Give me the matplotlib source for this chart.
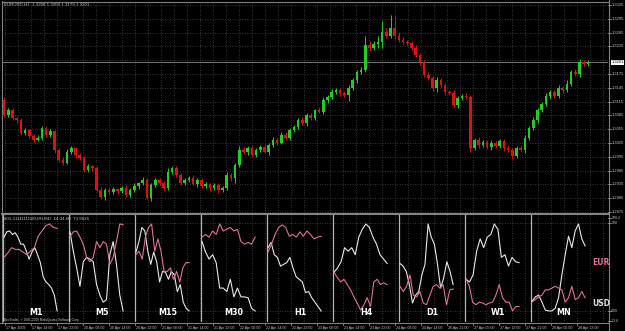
import numpy as np
import matplotlib.pyplot as plt

# EURUSD bars: first open, then closes (each bar opens at the previous close)
first_open = 1.3119
closes = [
    1.3086, 1.3097, 1.3079, 1.3075, 1.3047, 1.3053, 1.3040, 1.3032, 1.3036, 1.3058,
    1.3043, 1.3051, 1.3010, 1.2988, 1.2982, 1.3006, 1.3014, 1.2999, 1.2993, 1.2966,
    1.2975, 1.2971, 1.2923, 1.2908, 1.2923, 1.2919, 1.2925, 1.2921, 1.2927, 1.2912,
    1.2923, 1.2932, 1.2938, 1.2945, 1.2906, 1.2934, 1.2945, 1.2938, 1.2927, 1.2962,
    1.2971, 1.2956, 1.2938, 1.2945, 1.2949, 1.2936, 1.2945, 1.2932, 1.2936, 1.2927,
    1.2934, 1.2923, 1.2927, 1.2956, 1.2949, 1.2977, 1.3010, 1.3006, 1.3014, 1.2999,
    1.3010, 1.3016, 1.3006, 1.3021, 1.3032, 1.3025, 1.3043, 1.3036, 1.3053, 1.3060,
    1.3075, 1.3069, 1.3086, 1.3079, 1.3097, 1.3093, 1.3119, 1.3125, 1.3136, 1.3140,
    1.3134, 1.3129, 1.3145, 1.3162, 1.3179, 1.3184, 1.3238, 1.3232, 1.3240, 1.3245,
    1.3266, 1.3258, 1.3275, 1.3258, 1.3249, 1.3245, 1.3243, 1.3232, 1.3216, 1.3201,
    1.3173, 1.3166, 1.3145, 1.3162, 1.3151, 1.3136, 1.3134, 1.3108, 1.3123, 1.3127,
    1.3125, 1.3014, 1.3032, 1.3021, 1.3027, 1.3016, 1.3025, 1.3019, 1.3029, 1.3014,
    1.3010, 1.2997, 1.3014, 1.3010, 1.3036, 1.3058, 1.3075, 1.3097, 1.3110, 1.3127,
    1.3136, 1.3127, 1.3145, 1.3140, 1.3153, 1.3179, 1.3175, 1.3201, 1.3197, 1.3201,
]
# wick lengths in pips above / below the body
wick_up = [
    6, 4, 5, 3, 4, 5, 3, 4, 6, 5, 4, 5, 3, 4, 6, 5, 4, 3, 5, 4,
    5, 3, 4, 6, 5, 4, 5, 3, 4, 6, 4, 5, 3, 6, 4, 5, 4, 3, 5, 8,
    5, 4, 3, 5, 4, 6, 3, 4, 5, 3, 4, 3, 5, 6, 4, 5, 8, 6, 5, 4,
    5, 4, 6, 3, 5, 4, 5, 6, 4, 5, 4, 6, 5, 4, 3, 6, 5, 4, 6, 5,
    4, 5, 6, 5, 4, 7, 20, 8, 6, 12, 25, 10, 28, 26, 8, 6, 5, 4, 5, 4,
    5, 6, 4, 7, 5, 4, 5, 6, 4, 5, 6, 5, 4, 6, 5, 4, 6, 5, 4, 5,
    6, 4, 5, 6, 7, 5, 6, 4, 5, 6, 5, 4, 6, 5, 8, 5, 6, 7, 4, 5,
]
wick_dn = [
    4, 5, 3, 6, 4, 5, 6, 4, 3, 5, 5, 4, 6, 5, 4, 3, 5, 6, 4, 5,
    4, 6, 5, 4, 6, 5, 4, 6, 5, 4, 5, 4, 6, 5, 3, 6, 5, 4, 6, 4,
    4, 6, 5, 4, 5, 3, 6, 4, 5, 6, 5, 6, 4, 5, 6, 12, 5, 4, 6, 5,
    4, 5, 3, 6, 4, 5, 3, 4, 5, 4, 5, 4, 6, 5, 4, 3, 5, 6, 4, 5,
    6, 5, 12, 5, 6, 4, 5, 6, 4, 8, 14, 5, 4, 6, 5, 4, 6, 5, 4, 6,
    5, 4, 6, 10, 5, 6, 4, 5, 6, 4, 5, 8, 4, 6, 5, 4, 6, 5, 4, 6,
    5, 6, 4, 5, 6, 5, 4, 6, 5, 4, 6, 5, 4, 6, 5, 4, 5, 6, 5, 4,
]
price_ticks = [1.3325 - 0.0030 * k for k in range(16)]
last_price = 1.3201

date_labels = [
    '17 Apr 2009', '17 Apr 14:00', '17 Apr 22:00', '20 Apr 06:00', '20 Apr 14:00',
    '20 Apr 22:00', '21 Apr 06:00', '21 Apr 14:00', '21 Apr 22:00', '22 Apr 06:00',
    '22 Apr 14:00', '22 Apr 22:00', '23 Apr 06:00', '23 Apr 14:00', '23 Apr 22:00',
    '24 Apr 06:00', '24 Apr 14:00', '26 Apr 21:00', '27 Apr 05:00', '27 Apr 13:00',
    '27 Apr 21:00', '28 Apr 05:00', '28 Apr 13:00',
]

# currency strength per timeframe (0..100)
panels = ['M1', 'M5', 'M15', 'M30', 'H1', 'H4', 'D1', 'W1', 'MN']
eur = [
    [61, 66, 72, 70, 70, 67, 64, 68, 72, 85, 91, 97, 99, 95, 94],
    [85, 90, 91, 84, 76, 61, 56, 61, 79, 72, 79, 76, 53, 61, 79, 99, 98],
    [64, 68, 59, 84, 95, 99, 68, 82, 68, 45, 45, 49, 36, 45, 33, 49, 55, 55],
    [84, 87, 84, 91, 87, 99, 91, 93, 95, 91, 93, 79, 76, 78, 76, 84],
    [67, 76, 87, 95, 98, 95, 85, 87, 84, 90, 85, 91, 87, 82, 84, 85],
    [44, 38, 33, 36, 30, 24, 16, 9, 1, 7, 15, 5, 33, 36, 30, 32, 30],
    [28, 22, 28, 41, 18, 16, 22, 9, 7, 18, 28, 30, 26, 30, 7, 24, 25],
    [37, 28, 10, 7, 10, 9, 7, 9, 10, 18, 30, 15, 10, 10, 0, 5, 5],
    [10, 13, 16, 18, 24, 24, 26, 28, 26, 24, 10, 15, 28, 13, 15, 22, 15],
]
usd = [
    [84, 90, 91, 87, 89, 84, 76, 76, 68, 59, 67, 72, 64, 55, 39, 33, 30, 26, 18, 0],
    [90, 68, 49, 28, 56, 61, 59, 56, 30, 18, 10, 13, 64, 79, 53, 18, 0],
    [67, 79, 95, 91, 68, 53, 67, 56, 33, 45, 44, 36, 45, 41, 22, 30, 10, 3, 0],
    [79, 67, 59, 64, 55, 26, 26, 22, 36, 16, 26, 16, 16, 15, 3, 0],
    [72, 78, 64, 61, 51, 53, 55, 61, 49, 39, 36, 33, 21, 22, 15, 10, 5, 0],
    [44, 49, 56, 72, 68, 72, 64, 84, 93, 99, 95, 84, 76, 64, 59, 54],
    [54, 51, 45, 30, 9, 18, 22, 41, 53, 99, 84, 76, 53, 26, 38, 56, 45, 30],
    [36, 33, 41, 68, 82, 72, 84, 87, 99, 93, 61, 64, 51, 61, 56, 55],
    [11, 16, 18, 10, 1, 0, 0, 3, 15, 41, 64, 85, 72, 91, 99, 82, 74],
]

W, H = 625, 331
PINK = '#e0709f'
GRID = '#4a4a4a'
TXT = '#c8c8c8'
SMALL = dict(family='Liberation Sans', color=TXT)
fig = plt.figure(figsize=(W / 100, H / 100), dpi=100, facecolor='black')


def box(x0, y0, x1, y1):
    return [x0 / W, 1 - y1 / H, (x1 - x0) / W, (y1 - y0) / H]


# background layer in pixel coords: grid, borders, texts
bg = fig.add_axes([0, 0, 1, 1])
bg.set_xlim(0, W)
bg.set_ylim(H, 0)
bg.axis('off')
bg.set_zorder(0)
gx = np.arange(5, 606, 13)
bg.vlines(gx, 2, 213, color=GRID, lw=0.6, linestyle=(0, (1, 2)))
bg.vlines(gx, 215, 322, color=GRID, lw=0.6, linestyle=(0, (1, 2)))
bg.plot([1.5, 1.5], [1, 322], color='#808080', lw=0.8)
bg.plot([1.5, 608.5], [1.5, 1.5], color='#808080', lw=0.8)
bg.plot([608.5, 608.5], [0, 331], color='#808080', lw=0.8)
bg.plot([1.5, 608.5], [214, 214], color='#a0a0a0', lw=1.2)
bg.plot([0, 608.5], [322.5, 322.5], color='#808080', lw=0.8)

bg.text(4, 5, 'EURUSD,H1  1.3208 1.3209 1.3179 1.3201', fontsize=3.2, va='center', **SMALL)
bg.text(4, 219, '#01-111111111EURUSD  14:34:00  73.9626', fontsize=3.2, va='center', **SMALL)
bg.text(3, 321.8, 'AlexTrader, \u00a9 2001-2008 MetaQuotes Software Corp.', fontsize=2.3,
        va='bottom', **SMALL)
for i, lab in enumerate(date_labels):
    x = 5 + 26 * i
    bg.plot([x, x], [322.5, 325], color='#909090', lw=0.6)
    bg.text(x + 0.8, 327.5, lab, fontsize=2.6, va='center', ha='left', **SMALL)

# main price chart
ppx = 0.0030 / 13.8
ax = fig.add_axes(box(2, 2, 608, 213))
ax.set_zorder(1)
ax.patch.set_alpha(0)
ax.set_xlim(-0.5, -0.5 + 606 / 4.2)
ax.set_ylim(price_ticks[0] - 208 * ppx, price_ticks[0] + 3 * ppx)
ax.axis('off')
for p in price_ticks:
    ax.axhline(p, color=GRID, lw=0.6, linestyle=(0, (1, 2)), zorder=0)
ax.axhline(last_price, color='#8a8a8a', lw=0.6, zorder=1)

opens = [first_open] + closes[:-1]
for i, (o, c) in enumerate(zip(opens, closes)):
    if c > o:
        col = '#20d020'
    elif c < o:
        col = '#e01010'
    else:
        col = '#e0e0e0'
    hi = max(o, c) + wick_up[i] * 0.0001
    lo = min(o, c) - wick_dn[i] * 0.0001
    ax.vlines(i, lo, hi, color=col, lw=0.7, zorder=2)
    ax.bar(i, max(abs(c - o), 0.00006), bottom=min(o, c), width=0.62, color=col,
           linewidth=0, zorder=3)

yt = ax.get_yaxis_transform()
for p in price_ticks:
    if abs(p - last_price) < 0.0010:
        continue
    ax.plot([1.0, 1.005], [p, p], transform=yt, color='#909090', lw=0.6, clip_on=False)
    ax.text(1.0055, p, f'{p:.4f}', transform=yt, fontsize=2.9, va='center', ha='left',
            clip_on=False, **SMALL)
ax.text(1.0055, last_price, f'{last_price:.4f}', transform=yt, fontsize=2.9, va='center',
        ha='left', clip_on=False, family='Liberation Sans', color='black',
        bbox=dict(boxstyle='square,pad=0.12', fc='white', ec='none'))

# strength indicator window
ind = fig.add_axes(box(2, 215, 608, 322))
ind.set_zorder(1)
ind.patch.set_alpha(0)
ind.set_xlim(-1 / 66, 606 / 66 - 1 / 66)
ind.set_ylim(-12.6, 109.2)
ind.axis('off')
for lev in (0, 100):
    ind.axhline(lev, color=GRID, lw=0.6, linestyle=(0, (1, 2)))
for k in range(len(panels)):
    ind.axvline(k, color='#b4b4b4', lw=0.9)
for k, name in enumerate(panels):
    xe = k + np.linspace(0.015, 0.82, len(eur[k]))
    xu = k + np.linspace(0.015, 0.82, len(usd[k]))
    ind.plot(xu, usd[k], color='#e8e8e8', lw=0.8)
    ind.plot(xe, eur[k], color=PINK, lw=0.8)
    ind.text(k + 0.5, -2.2, name, color='white', fontsize=5.8, fontweight='bold',
             ha='center', va='center')
ind.text(9.06, 55, 'EUR', color=PINK, fontsize=5.5, fontweight='bold', ha='center', va='center')
ind.text(9.06, 8, 'USD', color='#e0e0e0', fontsize=5.5, fontweight='bold', ha='center', va='center')

it = ind.get_yaxis_transform()
for v, lab in [(106, '109.2'), (100, '100'), (0, '0.00'), (-11, '-12.6')]:
    ind.plot([1.0, 1.005], [v, v], transform=it, color='#909090', lw=0.6, clip_on=False)
    ind.text(1.0055, v, lab, transform=it, fontsize=2.6, va='center', ha='left',
             clip_on=False, **SMALL)

fig.savefig('out.png', dpi=100, facecolor='black')
